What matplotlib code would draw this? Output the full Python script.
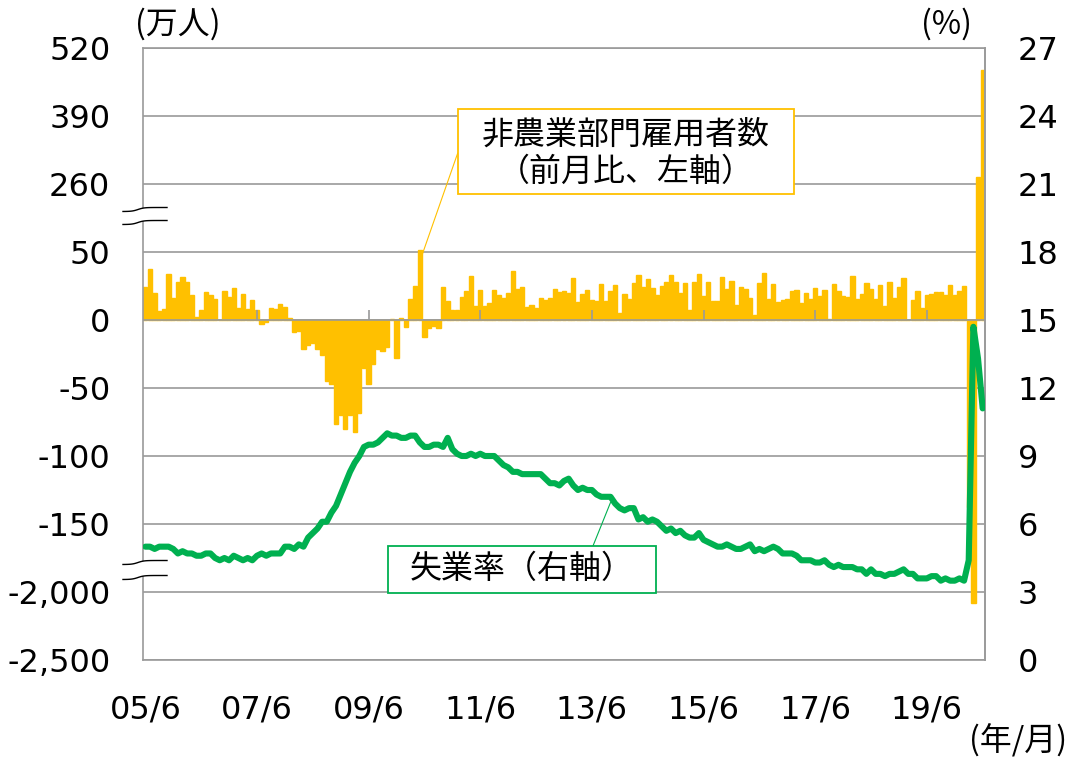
import numpy as np
import matplotlib
matplotlib.use("Agg")
import matplotlib.pyplot as plt
import matplotlib.transforms as mtransforms
from matplotlib.patches import Rectangle, Polygon

plt.rcParams["font.family"] = ["DejaVu Sans"]
JP = ["Noto Sans CJK JP", "DejaVu Sans"]

# monthly data, 2005/6 .. 2020/6
# non-farm payrolls, change from previous month (10k persons)
payroll_2005 = [24.5, 37.3, 19.6, 6.7, 8.4, 33.7, 15.9]  # Jun-Dec
payroll_2006 = [27.7, 31.5, 28.0, 18.2, 2.3, 7.7, 20.7, 18.4, 15.7, 0.2, 21.0, 17.1]
payroll_2007 = [23.8, 8.8, 18.8, 7.8, 14.4, 7.1, -3.3, -1.6, 8.5, 8.2, 11.8, 9.7]
payroll_2008 = [1.5, -8.6, -8.0, -21.4, -18.2, -17.2, -21.0, -25.9, -45.2, -47.4, -76.5, -69.7]
payroll_2009 = [-79.8, -70.1, -82.6, -68.4, -35.4, -46.7, -32.7, -21.6, -22.7, -19.8, 0.6, -28.3]
payroll_2010 = [1.8, -5.0, 15.6, 25.1, 56.0, -12.2, -6.1, -4.2, -5.7, 24.1, 13.7, 7.1]
payroll_2011 = [7.0, 16.8, 21.2, 32.2, 10.2, 21.7, 10.6, 12.2, 22.1, 18.3, 16.4, 19.6]
payroll_2012 = [36.0, 22.6, 24.3, 9.6, 11.0, 8.8, 16.0, 15.0, 16.1, 22.5, 20.3, 21.4]
payroll_2013 = [19.6, 31.1, 13.5, 19.2, 21.8, 14.6, 14.0, 26.8, 14.3, 21.2, 25.5, 5.0]
payroll_2014 = [19.0, 15.1, 27.2, 32.9, 24.6, 30.4, 23.8, 18.5, 24.8, 27.9, 33.0, 27.9]
payroll_2015 = [20.1, 27.1, 7.0, 27.8, 33.7, 18.0, 27.9, 14.0, 14.1, 31.3, 22.9, 28.5]
payroll_2016 = [11.2, 24.2, 22.5, 15.9, 3.7, 27.1, 34.3, 15.3, 26.2, 13.3, 14.9, 15.5]
payroll_2017 = [21.6, 21.9, 12.3, 19.6, 15.5, 23.5, 17.9, 22.1, 1.1, 26.7, 21.6, 17.5]
payroll_2018 = [16.6, 32.4, 15.8, 18.8, 27.4, 22.9, 15.3, 26.0, 10.3, 27.7, 16.5, 24.5]
payroll_2019 = [30.9, 0.1, 14.7, 21.0, 8.5, 18.2, 19.4, 20.7, 20.8, 18.5, 26.1, 18.4]
payroll_2020 = [21.4, 25.1, -137.3, -2078.7, 272.5, 478.1]  # Jan-Jun

# unemployment rate (%)
unemp_2005 = [5.0, 5.0, 4.9, 5.0, 5.0, 5.0, 4.9]
unemp_2006 = [4.7, 4.8, 4.7, 4.7, 4.6, 4.6, 4.7, 4.7, 4.5, 4.4, 4.5, 4.4]
unemp_2007 = [4.6, 4.5, 4.4, 4.5, 4.4, 4.6, 4.7, 4.6, 4.7, 4.7, 4.7, 5.0]
unemp_2008 = [5.0, 4.9, 5.1, 5.0, 5.4, 5.6, 5.8, 6.1, 6.1, 6.5, 6.8, 7.3]
unemp_2009 = [7.8, 8.3, 8.7, 9.0, 9.4, 9.5, 9.5, 9.6, 9.8, 10.0, 9.9, 9.9]
unemp_2010 = [9.8, 9.8, 9.9, 9.9, 9.6, 9.4, 9.4, 9.5, 9.5, 9.4, 9.8, 9.3]
unemp_2011 = [9.1, 9.0, 9.0, 9.1, 9.0, 9.1, 9.0, 9.0, 9.0, 8.8, 8.6, 8.5]
unemp_2012 = [8.3, 8.3, 8.2, 8.2, 8.2, 8.2, 8.2, 8.0, 7.8, 7.8, 7.7, 7.9]
unemp_2013 = [8.0, 7.7, 7.5, 7.6, 7.5, 7.5, 7.3, 7.2, 7.2, 7.2, 6.9, 6.7]
unemp_2014 = [6.6, 6.7, 6.7, 6.2, 6.3, 6.1, 6.2, 6.1, 5.9, 5.7, 5.8, 5.6]
unemp_2015 = [5.7, 5.5, 5.4, 5.4, 5.6, 5.3, 5.2, 5.1, 5.0, 5.0, 5.1, 5.0]
unemp_2016 = [4.9, 4.9, 5.0, 5.1, 4.8, 4.9, 4.8, 4.9, 5.0, 4.9, 4.7, 4.7]
unemp_2017 = [4.7, 4.6, 4.4, 4.4, 4.4, 4.3, 4.3, 4.4, 4.2, 4.1, 4.2, 4.1]
unemp_2018 = [4.1, 4.1, 4.0, 4.0, 3.8, 4.0, 3.8, 3.8, 3.7, 3.8, 3.8, 3.9]
unemp_2019 = [4.0, 3.8, 3.8, 3.6, 3.6, 3.6, 3.7, 3.7, 3.5, 3.6, 3.5, 3.5]
unemp_2020 = [3.6, 3.5, 4.4, 14.7, 13.3, 11.1]

payroll = np.array(payroll_2005 + payroll_2006 + payroll_2007 + payroll_2008
                   + payroll_2009 + payroll_2010 + payroll_2011 + payroll_2012
                   + payroll_2013 + payroll_2014 + payroll_2015 + payroll_2016
                   + payroll_2017 + payroll_2018 + payroll_2019 + payroll_2020)
unemp = np.array(unemp_2005 + unemp_2006 + unemp_2007 + unemp_2008
                 + unemp_2009 + unemp_2010 + unemp_2011 + unemp_2012
                 + unemp_2013 + unemp_2014 + unemp_2015 + unemp_2016
                 + unemp_2017 + unemp_2018 + unemp_2019 + unemp_2020)
months = np.arange(len(payroll))

xtick_labels = ["05/6", "07/6", "09/6", "11/6", "13/6", "15/6", "17/6", "19/6"]
xtick_pos = [24 * k for k in range(len(xtick_labels))]

# left axis is broken: every tick gets the same spacing
left_ticks = [-2500, -2000, -150, -100, -50, 0, 50, 260, 390, 520]
right_ticks = list(range(0, 28, 3))

GOLD = "#FFC000"
GREEN = "#00B050"
GRAY = "#9A9A9A"
FS = 23      # numbers
FS_JP = 23   # japanese text

_idx = np.arange(len(left_ticks), dtype=float)


def fwd(v):
    return np.interp(v, left_ticks, _idx)


def inv(t):
    return np.interp(t, _idx, left_ticks)


def break_mark(ax, yc, gap_px, w_px=842, h_px=612):
    """Wavy double line over the left spine at axes height yc."""
    xs = np.linspace(-20, 24, 60)
    wave = 2.0 * np.tanh((xs + 5) / 6.0)
    X = xs / w_px
    up = yc + (wave + gap_px / 2) / h_px
    lo = yc + (wave - gap_px / 2) / h_px
    poly = Polygon(np.r_[np.c_[X, up], np.c_[X[::-1], lo[::-1]]],
                   closed=True, facecolor="white", edgecolor="none",
                   transform=ax.transAxes, clip_on=False, zorder=10)
    ax.add_patch(poly)
    for yy in (up, lo):
        ax.plot(X, yy, color="black", lw=1.0, transform=ax.transAxes,
                clip_on=False, zorder=11)


fig = plt.figure(figsize=(10.7, 7.57), dpi=100)
ax = fig.add_axes([143 / 1070, 1 - 660 / 757, 842 / 1070, 612 / 757])

ax.set_yscale("function", functions=(fwd, inv))
ax.set_ylim(left_ticks[0], left_ticks[-1])
ax.set_xlim(-0.5, len(payroll) - 0.5)

ax.bar(months, payroll, width=0.92, color=GOLD, edgecolor=GOLD, lw=1.0,
       zorder=2)
ax.axhline(0, color=GRAY, lw=1.2, zorder=3)
# small ticks on the zero line
tr = mtransforms.blended_transform_factory(ax.transData, ax.transAxes)
y0 = fwd(0) / (len(left_ticks) - 1)
ax.vlines(xtick_pos[1:], y0, y0 + 10 / 612, color=GRAY, lw=1.2,
          transform=tr, zorder=3)

ax.set_yticks(left_ticks)
ax.set_yticklabels([f"{v:,}" for v in left_ticks])
ax.yaxis.set_minor_locator(matplotlib.ticker.NullLocator())
ax.set_xticks(xtick_pos)
ax.set_xticklabels(xtick_labels)
ax.tick_params(axis="y", length=0, pad=23.5, labelsize=FS)
ax.tick_params(axis="x", length=0, pad=24.5, labelsize=FS)
ax.yaxis.grid(True, color=GRAY, lw=1.2)
ax.set_axisbelow(True)
for s in ax.spines.values():
    s.set_color(GRAY)
    s.set_linewidth(1.2)

ax2 = ax.twinx()
ax2.set_ylim(right_ticks[0], right_ticks[-1])
ax2.set_yticks(right_ticks)
ax2.tick_params(axis="y", length=0, pad=23.5, labelsize=FS)
ax2.plot(months, unemp, color=GREEN, lw=4.4, solid_joinstyle="round",
         solid_capstyle="round", zorder=4)
for k in ("top", "bottom", "left"):
    ax2.spines[k].set_visible(False)
ax2.spines["right"].set_color(GRAY)
ax2.spines["right"].set_linewidth(1.2)

break_mark(ax2, (660 - 216) / 612, 13)
break_mark(ax2, (660 - 570) / 612, 15)

# callout: payrolls
ax2.add_patch(Rectangle((0.3741, 0.7614), 0.3991, 0.1389, transform=ax2.transAxes,
                        facecolor="white", edgecolor=GOLD, lw=1.3, zorder=6))
ax2.text(0.5737, 0.8578, "非農業部門雇用者数", transform=ax2.transAxes,
         ha="center", va="center", fontsize=FS_JP, family=JP, zorder=7)
ax2.text(0.5737, 0.7974, "（前月比、左軸）", transform=ax2.transAxes,
         ha="center", va="center", fontsize=FS_JP, family=JP, zorder=7)
ax.annotate("", xy=(59, 43), xycoords="data",
            xytext=(0.3738, 0.8284), textcoords="axes fraction",
            arrowprops=dict(arrowstyle="-", color=GOLD, lw=0.8,
                            shrinkA=0, shrinkB=0), zorder=5)

# callout: unemployment
ax2.add_patch(Rectangle((0.291, 0.1095), 0.3183, 0.0768, transform=ax2.transAxes,
                        facecolor="white", edgecolor=GREEN, lw=1.3, zorder=6))
ax2.text(0.4502, 0.148, "失業率（右軸）", transform=ax2.transAxes,
         ha="center", va="center", fontsize=FS_JP, family=JP, zorder=7)
ax2.annotate("", xy=(100, 6.95), xycoords="data",
             xytext=(0.5344, 0.1863), textcoords="axes fraction",
             arrowprops=dict(arrowstyle="-", color=GREEN, lw=0.8,
                             shrinkA=0, shrinkB=0), zorder=5)

fig.text(135 / 1070, 1 - 24 / 757, "(万人)", ha="left", va="center",
         fontsize=FS_JP, family=JP)
fig.text(972 / 1070, 1 - 24 / 757, "(%)", ha="right", va="center",
         fontsize=FS_JP, family=JP)
fig.text(1067 / 1070, 1 - 741 / 757, "(年/月)", ha="right", va="center",
         fontsize=FS_JP, family=JP)

fig.savefig("out.png", dpi=100)
